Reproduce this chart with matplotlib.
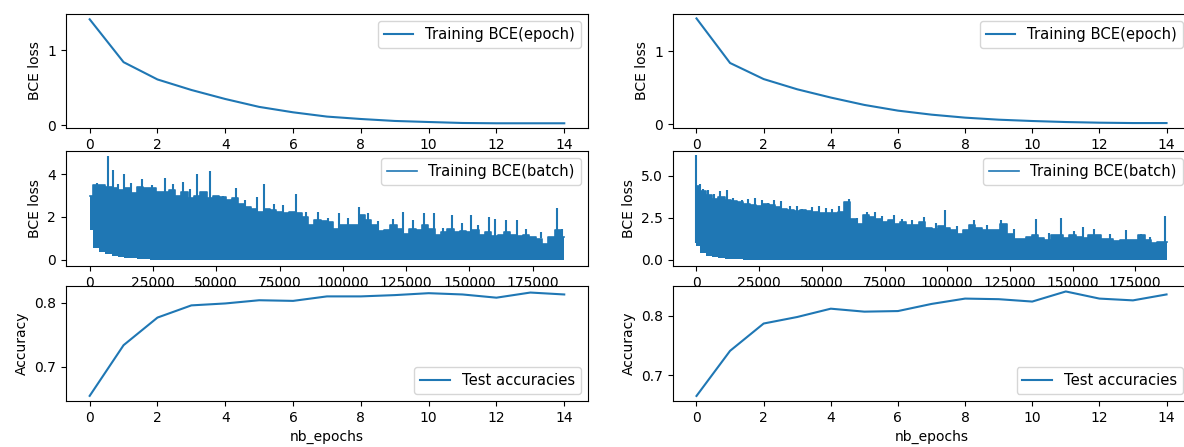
import matplotlib
matplotlib.use("Agg")
from matplotlib import pyplot as plt

epochs = list(range(15))
batch_steps = list(range(0, 187501, 2500))

# run A (left column)
loss_epoch_a = [1.41, 0.84, 0.61, 0.47, 0.35, 0.245, 0.173, 0.116, 0.084, 0.058,
                0.044, 0.031, 0.027, 0.027, 0.027]
acc_a = [0.655, 0.734, 0.777, 0.796, 0.799, 0.804, 0.803, 0.810, 0.810, 0.812,
         0.815, 0.813, 0.808, 0.816, 0.813]
batch_top_a = [3.0, 3.48, 3.5, 3.4, 3.36, 3.25, 3.33, 3.14, 3.4, 3.33,
               3.36, 3.17, 3.17, 3.25, 3.0, 3.17, 2.86, 3.0, 3.17, 2.86,
               3.0, 2.94, 2.78, 2.86, 2.6, 2.47, 2.39, 2.23, 2.39, 2.31,
               2.23, 2.16, 2.23, 2.16, 2.0, 1.6, 1.84, 1.8, 1.77, 1.45,
               1.6, 1.64, 1.6, 2.08, 1.84, 1.6, 1.33, 1.37, 1.6, 1.45,
               1.22, 1.45, 1.37, 1.6, 1.45, 1.17, 1.3, 1.45, 1.27, 1.33,
               1.27, 1.37, 1.17, 1.27, 1.1, 1.14, 1.3, 1.17, 1.1, 1.14,
               1.06, 0.98, 0.75, 1.06, 1.37, 1.06]
batch_floor_a = [1.4, 0.55, 0.35, 0.25, 0.18, 0.12, 0.08, 0.05, 0.03, 0.02] + [0.0] * 66
spike_steps_a = [3000, 7300, 9200, 11000, 13700, 16500, 20700, 24500, 29900, 33000,
                 36800, 39500, 42500, 47600, 52500, 57800, 61500, 66200, 68800, 72900,
                 76500, 81700, 85500, 90300, 94000, 98500, 102000, 106300, 110000, 114000,
                 120000, 123600, 127600, 132100, 136100, 139500, 143300, 147200, 150500, 153500,
                 157700, 160100, 164300, 168900, 172500, 178500, 184600, 186500]
spike_vals_a = [3.6, 4.85, 4.2, 3.55, 4.0, 3.6, 3.75, 3.5, 3.8, 3.55,
                3.64, 3.3, 4.0, 4.15, 3.0, 3.35, 2.8, 2.94, 3.56, 2.6,
                2.55, 3.05, 2.25, 2.23, 1.95, 2.16, 1.95, 2.45, 2.2, 1.8,
                1.92, 2.23, 1.84, 2.16, 2.16, 1.5, 2.08, 1.69, 2.08, 1.6,
                2.0, 1.92, 1.84, 1.84, 1.45, 1.3, 2.42, 1.45]

# run B (right column)
loss_epoch_b = [1.45, 0.84, 0.62, 0.48, 0.367, 0.266, 0.188, 0.133, 0.092, 0.064,
                0.046, 0.032, 0.023, 0.018, 0.018]
acc_b = [0.665, 0.741, 0.787, 0.798, 0.812, 0.807, 0.808, 0.820, 0.829, 0.828,
         0.824, 0.841, 0.829, 0.826, 0.836]
batch_top_b = [4.4, 4.1, 3.83, 3.63, 3.73, 3.57, 3.49, 3.43, 3.33, 3.23,
               3.17, 3.33, 3.23, 3.13, 3.04, 2.94, 2.9, 2.94, 2.9, 2.84,
               2.75, 2.8, 2.75, 2.84, 3.43, 2.44, 2.1, 2.64, 2.54, 2.44,
               2.24, 2.34, 2.14, 2.24, 2.04, 2.04, 2.24, 1.9, 1.85, 1.98,
               1.9, 1.75, 1.5, 1.75, 2.04, 1.9, 1.75, 1.78, 1.75, 2.14,
               1.55, 1.25, 1.25, 1.35, 1.45, 1.31, 1.19, 1.45, 1.45, 1.31,
               1.45, 1.35, 1.31, 1.45, 1.45, 1.25, 1.25, 1.11, 1.15, 1.15,
               1.19, 1.45, 1.15, 1.0, 1.05, 1.05]
batch_floor_b = [0.8, 0.4, 0.22, 0.14, 0.1, 0.06, 0.04, 0.02] + [0.0] * 68
spike_steps_b = [0, 1500, 2700, 4400, 7100, 9300, 12000, 14500, 18300, 20700,
                 23500, 26000, 28500, 30900, 33700, 37500, 40000, 42000, 46000, 48700,
                 51500, 54000, 56900, 60800, 64000, 68000, 71300, 74000, 78700, 82000,
                 86000, 90700, 95500, 99300, 104000, 110700, 116000, 121300, 126500, 135300,
                 140500, 145300, 150500, 154300, 158700, 165000, 171300, 177300, 181000, 187000]
spike_vals_b = [6.25, 4.5, 4.23, 4.17, 3.9, 4.1, 4.17, 3.7, 3.53, 3.6,
                3.65, 3.57, 3.4, 3.57, 3.5, 3.2, 3.2, 3.04, 3.13, 3.17,
                3.1, 3.0, 3.17, 3.63, 2.5, 2.85, 2.84, 2.6, 2.64, 2.4,
                2.34, 2.54, 2.2, 2.94, 2.0, 2.34, 2.05, 2.38, 1.8, 2.44,
                1.6, 2.5, 1.7, 1.94, 1.85, 1.55, 1.79, 1.55, 1.35, 2.58]

plt.rcParams['font.size'] = 10
c = "C0"

fig = plt.figure(figsize=(11.84, 4.47), dpi=100)


def column(left, width, loss, top, floor, sp_x, sp_y, acc, lims):
    ax1 = fig.add_axes([left, 0.7136, width, 0.255])
    ax1.plot(epochs, loss, color=c, label="Training BCE(epoch)")
    ax1.set_ylim(lims[0])
    ax1.set_yticks([0, 1])
    ax1.set_xticks(range(0, 15, 2))
    ax1.set_ylabel("BCE loss")
    ax1.legend(loc="upper right", fontsize=10.6)

    ax2 = fig.add_axes([left, 0.405, width, 0.257])
    ax2.fill_between(batch_steps, floor, top, step="mid", color=c, lw=0)
    ax2.vlines(sp_x, 1.0, sp_y, color=c, lw=1.5)
    ax2.plot(batch_steps, top, drawstyle="steps-mid", color=c, lw=1.2,
             label="Training BCE(batch)")
    ax2.set_ylim(lims[1])
    ax2.set_yticks(lims[2])
    ax2.set_xticks(range(0, 175001, 25000))
    ax2.set_ylabel("BCE loss")
    ax2.legend(loc="upper right", fontsize=10.6, handlelength=2.0)

    ax3 = fig.add_axes([left, 0.1029, width, 0.257])
    ax3.plot(epochs, acc, color=c, label="Test accuracies")
    ax3.set_ylim(lims[3])
    ax3.set_yticks([0.7, 0.8])
    ax3.set_xticks(range(0, 15, 2))
    ax3.set_ylabel("Accuracy")
    ax3.set_xlabel("nb_epochs")
    ax3.legend(loc="lower right", fontsize=10.6)


column(0.0557, 0.4409, loss_epoch_a, batch_top_a, batch_floor_a,
       spike_steps_a, spike_vals_a, acc_a,
       [(-0.036, 1.48), (-0.3, 5.08), [0, 2, 4], (0.647, 0.826)])
column(0.5684, 0.4367, loss_epoch_b, batch_top_b, batch_floor_b,
       spike_steps_b, spike_vals_b, acc_b,
       [(-0.05, 1.51), (-0.38, 6.47), [0, 2.5, 5], (0.6565, 0.850)])

fig.savefig("out.png", dpi=100)
